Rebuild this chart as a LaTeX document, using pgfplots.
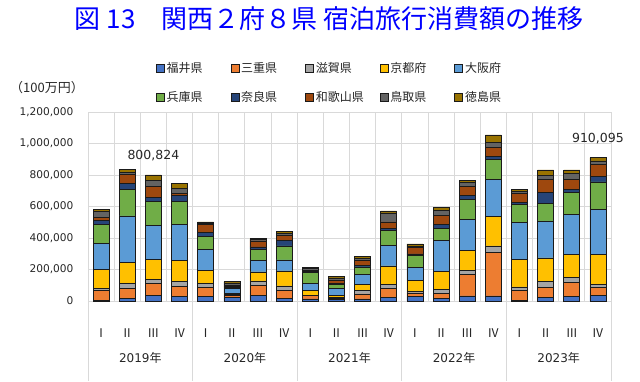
\documentclass[border=0pt]{standalone}
\usepackage{pgfplots}
\pgfplotsset{compat=1.18}
\usepackage{pgfplotstable}
\usepackage{fontspec}
\setmainfont{DejaVu Sans}
\newfontfamily\jp{Noto Sans CJK JP}
\definecolor{cFukui}{HTML}{4472C4}
\definecolor{cMie}{HTML}{ED7D31}
\definecolor{cShiga}{HTML}{A5A5A5}
\definecolor{cKyoto}{HTML}{FFC000}
\definecolor{cOsaka}{HTML}{5B9BD5}
\definecolor{cHyogo}{HTML}{70AD47}
\definecolor{cNara}{HTML}{264478}
\definecolor{cWakayama}{HTML}{9E480E}
\definecolor{cTottori}{HTML}{636363}
\definecolor{cTokushima}{HTML}{997300}
\definecolor{gridgray}{HTML}{D9D9D9}
\definecolor{titleblue}{HTML}{0000FF}
\definecolor{txt}{HTML}{262626}
\definecolor{barline}{HTML}{1A1A1A}

\pgfplotstableread{
x fukui mie shiga kyoto osaka hyogo nara wakayama tottori tokushima
0 6000 59000 15000 120000 165000 122000 25000 21000 38000 13000
1 17000 61000 34000 133000 295000 167000 42000 55000 15000 15000
2 38000 74000 25000 127000 215000 152000 25000 72000 38000 34824
3 27000 68000 27000 137000 226000 148000 36000 15000 30000 32000
4 27000 59000 25000 84000 133000 82000 25000 51000 8000 8000
5 22000 12000 6000 8000 30000 8000 6000 8000 15000 8000
6 38000 63000 27000 57000 74000 70000 15000 38000 8000 6000
7 17000 49000 30000 95000 70000 89000 34000 30000 17000 11000
8 13000 21000 4000 27000 46000 70000 6000 6000 15000 5000
9 8000 6000 10000 10000 45000 27000 8000 15000 18000 11000
10 13000 32000 21000 40000 65000 46000 11000 32000 13000 8000
11 23000 57000 25000 118000 131000 95000 11000 42000 57000 13000
12 27000 25000 11000 70000 82000 76000 8000 42000 8000 13000
13 17000 32000 27000 110000 200000 74000 27000 57000 32000 17000
14 32000 139000 25000 127000 196000 127000 25000 57000 23000 15000
15 32000 276000 42000 188000 232000 127000 21000 55000 36000 46000
16 6000 59000 25000 175000 236000 112000 15000 53000 17000 11000
17 23000 61000 42000 148000 234000 114000 70000 78000 27000 36000
18 27000 89000 34000 146000 255000 137000 19000 63000 42000 21000
19 38000 49000 19000 192000 283000 175000 36000 74000 23000 21095
}\data

\pgfplotsset{lgbox/.style={legend image code/.code={\draw[##1,line width=0.6pt] (0pt,-4pt) rectangle (8pt,4pt);}}}

\begin{document}
\begin{tikzpicture}[x=1pt,y=1pt]
\useasboundingbox (0,0) rectangle (640,381);
\node[text=titleblue, font=\jp\fontsize{26}{30}\selectfont] at (329,362) {図 13　関西２府８県 宿泊旅行消費額の推移};
\node[text=txt, font=\jp\fontsize{13}{15}\selectfont] at (47,293) {（100万円）};
\begin{axis}[
  at={(88pt,80pt)}, anchor=south west,
  scale only axis, width=523pt, height=189pt,
  ybar stacked, bar width=16pt,
  xmin=-0.5, xmax=19.5, ymin=0, ymax=1200000,
  ytick={0,200000,400000,600000,800000,1000000,1200000},
  scaled y ticks=false,
  /pgf/number format/fixed,
  /pgf/number format/1000 sep={,},
  /pgf/number format/assume math mode=true,
  yticklabel style={font=\fontsize{10.6}{12}\selectfont, text=txt, xshift=-11pt},
  xtick={0,...,19},
  xticklabels={Ⅰ,Ⅱ,Ⅲ,Ⅳ,Ⅰ,Ⅱ,Ⅲ,Ⅳ,Ⅰ,Ⅱ,Ⅲ,Ⅳ,Ⅰ,Ⅱ,Ⅲ,Ⅳ,Ⅰ,Ⅱ,Ⅲ,Ⅳ},
  xticklabel style={font=\jp\fontsize{12}{14}\selectfont, text=txt, anchor=center, yshift=-32pt},
  major tick length=0pt, minor tick length=0pt,
  minor xtick={-0.5,0.5,...,19.5},
  xminorgrids=true, ymajorgrids=true, xmajorgrids=false,
  grid style={draw=gridgray, line width=0.9pt},
  minor grid style={draw=gridgray, line width=0.9pt},
  axis line style={draw=none},
  clip=false,
  legend style={at={(axis description cs:0.124,1.286)}, anchor=north west, draw=none, fill=none,
    font=\jp\fontsize{12}{14}\selectfont, text=txt,
    /tikz/every even column/.append style={column sep=6pt}, row sep=14pt},
  legend columns=5,
]
\addplot[fill=cFukui, draw=barline, line width=0.6pt, lgbox] table[x=x,y=fukui]{\data};
\addlegendentry{\makebox[56pt][l]{福井県}}
\addplot[fill=cMie, draw=barline, line width=0.6pt, lgbox] table[x=x,y=mie]{\data};
\addlegendentry{\makebox[56pt][l]{三重県}}
\addplot[fill=cShiga, draw=barline, line width=0.6pt, lgbox] table[x=x,y=shiga]{\data};
\addlegendentry{\makebox[56pt][l]{滋賀県}}
\addplot[fill=cKyoto, draw=barline, line width=0.6pt, lgbox] table[x=x,y=kyoto]{\data};
\addlegendentry{\makebox[56pt][l]{京都府}}
\addplot[fill=cOsaka, draw=barline, line width=0.6pt, lgbox] table[x=x,y=osaka]{\data};
\addlegendentry{\makebox[56pt][l]{大阪府}}
\addplot[fill=cHyogo, draw=barline, line width=0.6pt, lgbox] table[x=x,y=hyogo]{\data};
\addlegendentry{\makebox[56pt][l]{兵庫県}}
\addplot[fill=cNara, draw=barline, line width=0.6pt, lgbox] table[x=x,y=nara]{\data};
\addlegendentry{\makebox[56pt][l]{奈良県}}
\addplot[fill=cWakayama, draw=barline, line width=0.6pt, lgbox] table[x=x,y=wakayama]{\data};
\addlegendentry{\makebox[56pt][l]{和歌山県}}
\addplot[fill=cTottori, draw=barline, line width=0.6pt, lgbox] table[x=x,y=tottori]{\data};
\addlegendentry{\makebox[56pt][l]{鳥取県}}
\addplot[fill=cTokushima, draw=barline, line width=0.6pt, lgbox] table[x=x,y=tokushima]{\data};
\addlegendentry{\makebox[56pt][l]{徳島県}}
\node[font=\fontsize{12.5}{14}\selectfont, text=txt, anchor=south] at (axis cs:2,800824) [yshift=10pt] {800,824};
\node[font=\fontsize{12.5}{14}\selectfont, text=txt, anchor=south] at (axis cs:19,910095) [yshift=10pt] {910,095};
\draw[gridgray, line width=0.9pt] (axis cs:-0.5,0) -- ++(0pt,-80pt);
\draw[gridgray, line width=0.9pt] (axis cs:3.5,0) -- ++(0pt,-80pt);
\draw[gridgray, line width=0.9pt] (axis cs:7.5,0) -- ++(0pt,-80pt);
\draw[gridgray, line width=0.9pt] (axis cs:11.5,0) -- ++(0pt,-80pt);
\draw[gridgray, line width=0.9pt] (axis cs:15.5,0) -- ++(0pt,-80pt);
\draw[gridgray, line width=0.9pt] (axis cs:19.5,0) -- ++(0pt,-80pt);
\node[font=\fontsize{12}{14}\selectfont, text=txt] at (axis cs:1.5,0) [yshift=-57pt] {2019{\jp 年}};
\node[font=\fontsize{12}{14}\selectfont, text=txt] at (axis cs:5.5,0) [yshift=-57pt] {2020{\jp 年}};
\node[font=\fontsize{12}{14}\selectfont, text=txt] at (axis cs:9.5,0) [yshift=-57pt] {2021{\jp 年}};
\node[font=\fontsize{12}{14}\selectfont, text=txt] at (axis cs:13.5,0) [yshift=-57pt] {2022{\jp 年}};
\node[font=\fontsize{12}{14}\selectfont, text=txt] at (axis cs:17.5,0) [yshift=-57pt] {2023{\jp 年}};
\end{axis}
\end{tikzpicture}
\end{document}
